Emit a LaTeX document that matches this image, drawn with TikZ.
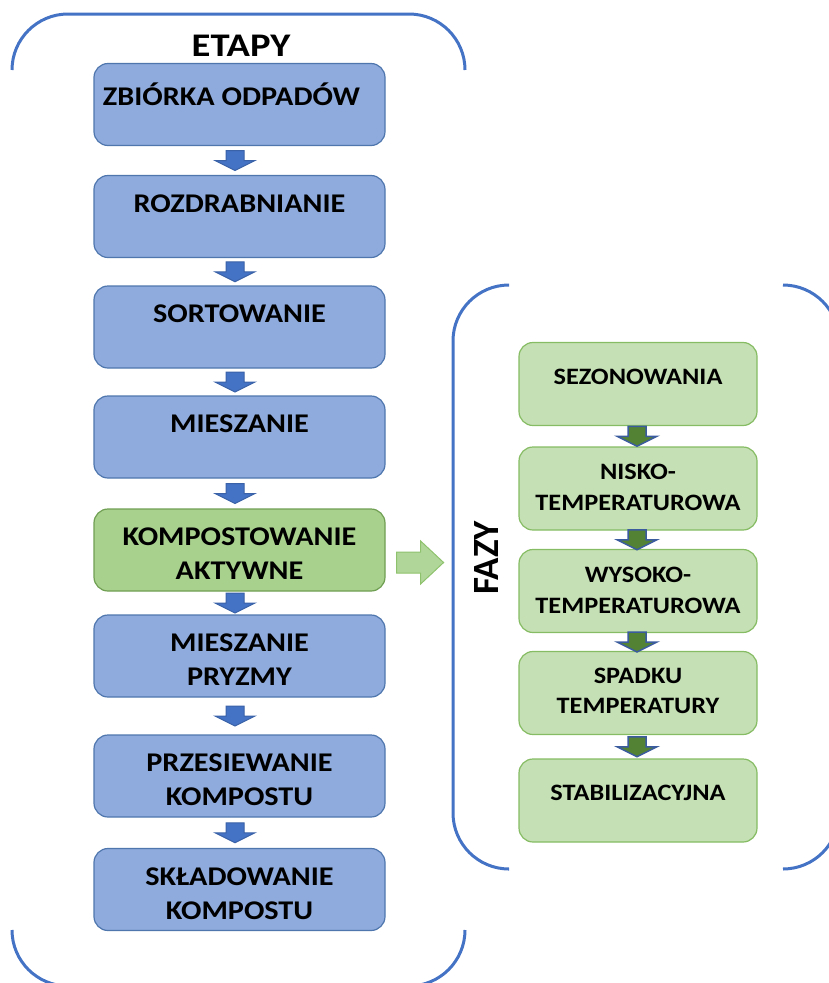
\documentclass[tikz,border=0pt]{standalone}
\usepackage{fontspec}
\setmainfont{Carlito}
\newfontfamily\widefont[FakeStretch=1.12]{Carlito}
\newfontfamily\titlefont[FakeStretch=1.17]{Carlito}
\usetikzlibrary{calc}

\definecolor{stagefill}{HTML}{8FAADC}
\definecolor{stageline}{HTML}{4F77AE}
\definecolor{activefill}{HTML}{A9D18E}
\definecolor{activeline}{HTML}{6F9F52}
\definecolor{phasefill}{HTML}{C5E0B4}
\definecolor{phaseline}{HTML}{86BC63}
\definecolor{bracketblue}{HTML}{4472C4}
\definecolor{arrowblue}{HTML}{4472C4}
\definecolor{arrowblueline}{HTML}{3A62A8}
\definecolor{arrowgreen}{HTML}{548235}
\definecolor{arrowgreenline}{HTML}{3A5C9E}
\definecolor{bigarrowfill}{HTML}{B1D69A}
\definecolor{bigarrowline}{HTML}{8EC26C}

% downward block arrow centred on the given coordinate
\newcommand\blockdown[2]{%
  \draw[#1] ($(#2)+(-9,-10)$) -- ++(18,0) -- ++(0,10) -- ++(11,0)
    -- ++(-20,10) -- ++(-20,-10) -- ++(11,0) -- cycle;}

\begin{document}
\begin{tikzpicture}[x=1pt,y=-1pt,
  stagebox/.style={draw=stageline, fill=stagefill, line width=1.2pt,
    rounded corners=14pt, minimum width=291pt, minimum height=82pt, inner sep=0pt},
  activebox/.style={stagebox, draw=activeline, fill=activefill},
  phasebox/.style={draw=phaseline, fill=phasefill, line width=1.2pt,
    rounded corners=14pt, minimum width=238pt, minimum height=83pt, inner sep=0pt},
  stagetext/.style={font=\widefont\fontsize{27}{34}\selectfont\bfseries, align=center, inner sep=0pt},
  phasetext/.style={font=\widefont\fontsize{23.5}{30.5}\selectfont\bfseries, align=center, inner sep=0pt},
  bracket/.style={draw=bracketblue, line width=3pt, rounded corners=56pt},
  bluearrow/.style={fill=arrowblue, draw=arrowblueline, line width=1pt, line join=miter},
  greenarrow/.style={fill=arrowgreen, draw=arrowgreenline, line width=1.5pt, line join=miter},
  bigarrow/.style={fill=bigarrowfill, draw=bigarrowline, line width=1pt, line join=miter}]
\useasboundingbox (0,0) rectangle (829,983);
\clip (0,0) rectangle (829,983);

% brackets around the two groups
\draw[bracket] (12,70) -- (12,14) -- (465,14) -- (465,70);
\draw[bracket] (12,930) -- (12,986) -- (465,986) -- (465,930);
\draw[bracket] (508,285) -- (453,285) -- (453,869) -- (508,869);
\draw[bracket] (783,285) -- (839,285) -- (839,869) -- (783,869);

\node[font=\titlefont\fontsize{33}{40}\selectfont\bfseries] (etapy) at (241,46) {ETAPY};
\node[font=\fontsize{37}{44}\selectfont\bfseries, rotate=90] (fazy) at (486,558) {FAZY};

% stages
\node[stagebox]  (s1) at (239.5,104.5) {};
\node[stagebox]  (s2) at (239.5,216.5) {};
\node[stagebox]  (s3) at (239.5,327) {};
\node[stagebox]  (s4) at (239.5,437) {};
\node[activebox] (s5) at (239.5,550) {};
\node[stagebox]  (s6) at (239.5,656) {};
\node[stagebox]  (s7) at (239.5,776) {};
\node[stagebox]  (s8) at (239.5,889.5) {};

\node[stagetext] (t1) at ($(s1.north)+(-8,31)$) {ZBIÓRKA ODPADÓW};
\node[stagetext] (t2) at ($(s2.north)+(0,29)$) {ROZDRABNIANIE};
\node[stagetext] (t3) at ($(s3.north)+(0,28)$) {SORTOWANIE};
\node[stagetext] (t4) at ($(s4.north)+(0,28)$) {MIESZANIE};
\node[stagetext] (t5) at ($(s5.north)+(0,45)$) {KOMPOSTOWANIE\\AKTYWNE};
\node[stagetext] (t6) at ($(s6.north)+(0,45.5)$) {MIESZANIE\\PRYZMY};
\node[stagetext] (t7) at ($(s7.north)+(0,45)$) {PRZESIEWANIE\\KOMPOSTU};
\node[stagetext] (t8) at ($(s8.north)+(0,46)$) {SKŁADOWANIE\\KOMPOSTU};

\foreach \a/\b in {s1/s2,s2/s3,s3/s4,s4/s5,s5/s6,s6/s7,s7/s8}{
  \coordinate (m\a) at ($(\a.south)!0.5!(\b.north)+(-4.5,0)$);
  \blockdown{bluearrow}{m\a}
}

% phases
\node[phasebox] (p1) at (638,384) {};
\node[phasebox] (p2) at (638,488.5) {};
\node[phasebox] (p3) at (638,591) {};
\node[phasebox] (p4) at (638,693) {};
\node[phasebox] (p5) at (638,800.5) {};

\node[phasetext] (q1) at ($(p1.north)+(0,35)$) {SEZONOWANIA};
\node[phasetext] (q2) at ($(p2.north)+(0,41)$) {NISKO-\\TEMPERATUROWA};
\node[phasetext] (q3) at ($(p3.north)+(0,41.5)$) {WYSOKO-\\TEMPERATUROWA};
\node[phasetext] (q4) at ($(p4.north)+(0,40)$) {SPADKU\\TEMPERATURY};
\node[phasetext] (q5) at ($(p5.north)+(0,34)$) {STABILIZACYJNA};

\foreach \a/\b in {p1/p2,p2/p3,p3/p4,p4/p5}{
  \coordinate (m\a) at ($(\a.south)!0.5!(\b.north)+(-1,0)$);
  \blockdown{greenarrow}{m\a}
}

% link from the active composting stage to its phases
\coordinate (linkstart) at ($(s5.east)+(11,2)$);
\draw[bigarrow] (linkstart) -- ++(24,0) -- ++(0,-11) -- ++(23,21.5)
  -- ++(-23,21.5) -- ++(0,-11) -- ++(-24,0) -- cycle;
\end{tikzpicture}
\end{document}
